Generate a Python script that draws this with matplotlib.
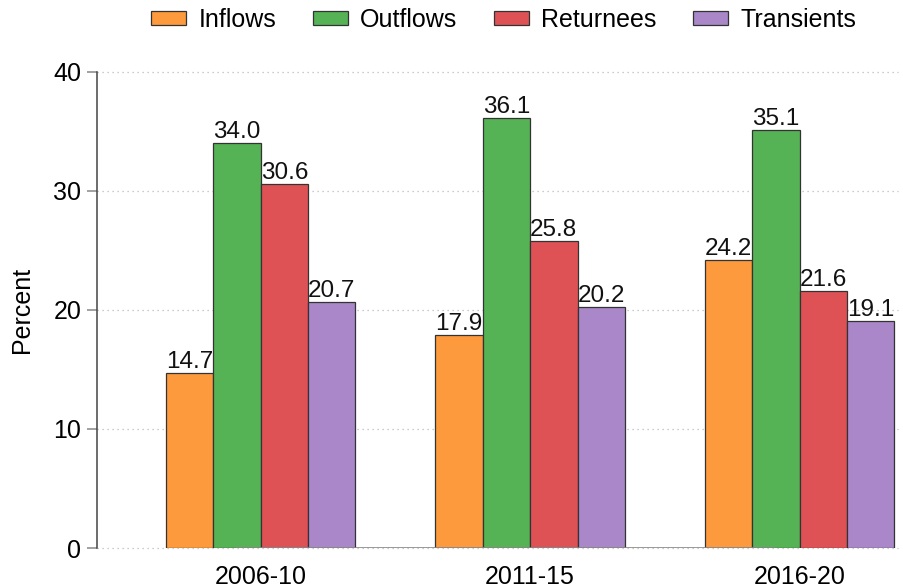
import numpy as np
from matplotlib import pyplot as plt

plt.rcParams['font.family'] = ['Liberation Sans', 'DejaVu Sans']

periods = ["2006-10", "2011-15", "2016-20"]
seriesNames = ["Inflows", "Outflows", "Returnees", "Transients"]
inflows = [14.7, 17.9, 24.2]
outflows = [34.0, 36.1, 35.1]
returnees = [30.6, 25.8, 21.6]
transients = [20.7, 20.2, 19.1]
yTicks = [0, 10, 20, 30, 40]

colors = ["#FD9A3D", "#55B355", "#DE5256", "#A987C8"]

fig = plt.figure(figsize=(9.04, 5.88), dpi=100)
ax = fig.add_axes([0.107, 0.068, 0.886, 0.810])

width = 0.176
locations = np.arange(len(periods))
series = [inflows, outflows, returnees, transients]

for i, (name, values) in enumerate(zip(seriesNames, series)):
    offset = (i - 1.5) * width
    rectangles = ax.bar(
        locations + offset,
        values,
        width,
        color=colors[i],
        edgecolor="#333333",
        linewidth=0.9,
        label=name,
        zorder=3
    )
    ax.bar_label(rectangles, fmt="%.1f", padding=0, fontsize=17.5, color="#111111")

ax.set_xlim(-0.608, 2.364)
ax.set_ylim(0, 40)
ax.set_yticks(yTicks)
ax.set_xticks(locations, periods)

ax.grid(axis="y", linestyle=(0, (1, 3)), color="#BBBBBB", linewidth=0.9, zorder=0)
for line in ax.get_ygridlines():
    line.set_clip_on(False)
for spine in ["top", "right", "bottom"]:
    ax.spines[spine].set_visible(False)
ax.spines["left"].set_color("#444444")
ax.spines["left"].set_linewidth(1.1)

# thin gray baseline segment as in the original
ax.hlines(0, locations[0] - 0.09, locations[-1] - 0.09, color="#888888", linewidth=1.2, zorder=4)

ax.tick_params(axis="y", direction="out", length=7, width=1.1, color="#888888",
               labelsize=18, pad=4)
ax.tick_params(axis="x", length=0, labelsize=18, pad=12)
ax.set_ylabel("Percent", fontsize=18, labelpad=14)

fig.legend(
    loc="upper center",
    bbox_to_anchor=(0.557, 1.025),
    ncol=4,
    frameon=False,
    fontsize=18,
    handlelength=1.4,
    handleheight=0.5,
    handletextpad=0.5,
    columnspacing=1.45
)

plt.savefig("out.png", dpi=100)
